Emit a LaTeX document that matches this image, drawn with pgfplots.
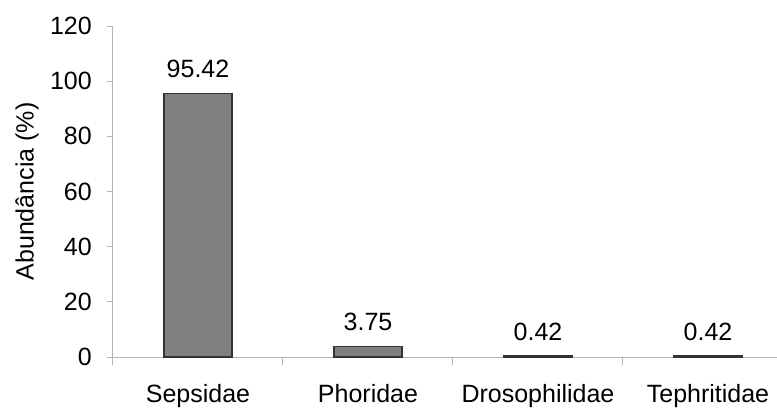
\documentclass[border=0pt]{standalone}
\usepackage{pgfplots}
\usepackage{pgfplotstable}
\pgfplotsset{compat=1.18}
\usepackage{fontspec}
\setmainfont{Liberation Sans}
\definecolor{axgray}{HTML}{B4B4B4}
\definecolor{barfill}{HTML}{808080}
\pgfplotstableread{
x y
0 95.42
1 3.75
2 0.42
3 0.42
}\abund
\begin{document}
\begin{tikzpicture}[font=\fontsize{25}{30}\selectfont]
\begin{axis}[
  name=ax,
  scale only axis,
  width=664pt, height=331pt,
  xmin=-0.5, xmax=3.406,
  ymin=0, ymax=120,
  axis lines=left,
  axis line style={-, draw=axgray, line width=1pt},
  /pgf/number format/assume math mode=true,
  ytick={0,20,...,120},
  xtick={0,1,2,3},
  xticklabels={Sepsidae,Phoridae,Drosophilidae,Tephritidae},
  minor xtick={-0.5,0.5,1.5,2.5},
  tick align=outside,
  major tick length=6pt,
  minor tick length=8pt,
  major x tick style={draw=none},
  minor x tick style={draw=axgray, line width=1pt},
  major y tick style={draw=axgray, line width=1pt},
  xticklabel style={inner sep=0pt, anchor=north, yshift=-21pt},
  yticklabel style={inner sep=0pt, anchor=east, xshift=-15pt},
  ylabel={Abundância (\%)},
  ylabel style={at={(axis description cs:-0.1295,0.5)}, anchor=center},
  clip=false,
]
\addplot[ybar, bar width=68pt, fill=barfill, draw=black!80, line width=1.2pt,
  nodes near coords={\pgfmathprintnumber[fixed,fixed zerofill,precision=2]{\pgfplotspointmeta}},
  point meta=y,
  every node near coord/.append style={inner sep=0pt, anchor=south, yshift=15pt, text=black}]
  table[x=x,y=y] {\abund};
\end{axis}
\pgfresetboundingbox
\path[use as bounding box] ([xshift=-113pt,yshift=-51pt]ax.south west) rectangle ++(777pt,408pt);
\end{tikzpicture}
\end{document}
